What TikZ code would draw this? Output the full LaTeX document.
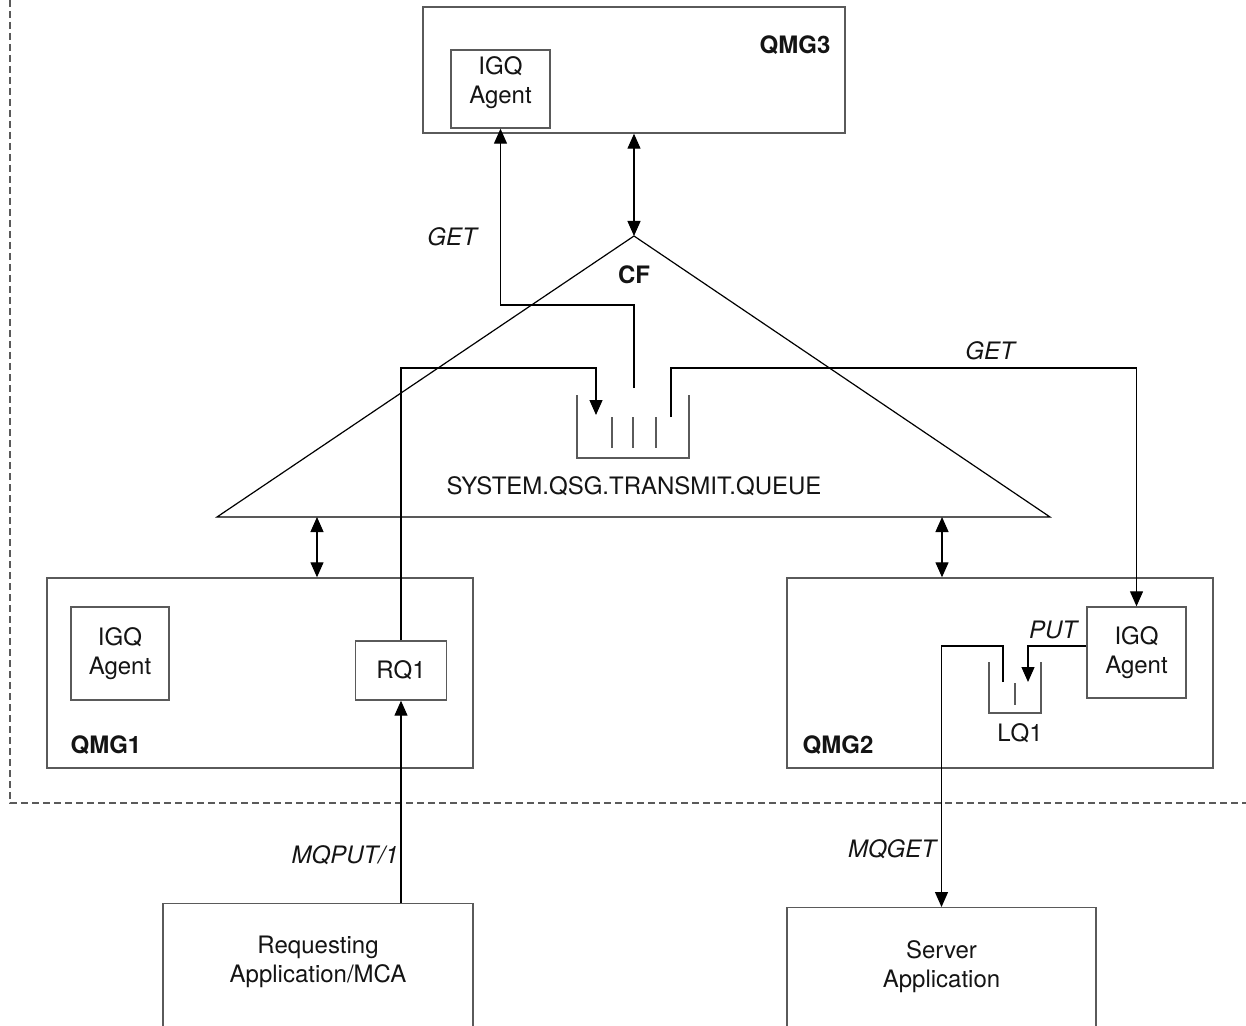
\documentclass[tikz,border=0pt]{standalone}
\usepackage{fontspec}
\setmainfont{TeX Gyre Heros}
\usetikzlibrary{arrows.meta,positioning,calc}
\definecolor{boxGray}{HTML}{5A5A5A}
\definecolor{textDark}{HTML}{141414}

\begin{document}
\begin{tikzpicture}[
        x=0.5pt, y=-0.5pt,
        font=\fontsize{12}{14.5}\selectfont,
        box/.style={draw=boxGray, line width=0.7pt, rectangle, align=center, inner sep=0pt, text=textDark}, % all boxes
        qlabel/.style={font=\fontsize{12}{14.5}\selectfont\bfseries, text=textDark},
        oplabel/.style={font=\fontsize{12}{14.5}\selectfont\itshape, text=textDark},
        queue/.style={draw=boxGray, line width=0.7pt},
        flow/.style={-{Triangle[length=7.5pt, width=6.5pt]}, black, line width=0.6pt},
        both/.style={{Triangle[length=7.5pt, width=6.5pt]}-{Triangle[length=7.5pt, width=6.5pt]}, black, line width=0.6pt}
    ]
    \clip (0,0) rectangle (1246,1026);

    % group boundary
    \draw[boxGray, line width=0.6pt, dash pattern=on 3.5pt off 2pt] (10,0) -- (10,803) -- (1246,803);

    % queue managers
    \node[box, minimum width=211pt, minimum height=63pt] (qmgC) at (634,70) {};
    \node[qlabel] at (795,45) {QMG3};
    \node[box, minimum width=49.5pt, minimum height=39pt] (agentC) at (500.5,89) {};
    \node[text=textDark, align=center] (agentCText) at (500.5,83) {IGQ\\Agent};

    \node[box, minimum width=213pt, minimum height=95pt] (qmgA) at (260,673) {};
    \node[qlabel] at (106,745) {QMG1};
    \node[box, minimum width=49pt, minimum height=46.5pt] (agentA) at (120,653.5) {IGQ\\Agent};
    \node[box, minimum width=45.5pt, minimum height=29.5pt] (rqA) at (401,670.5) {RQ1};

    \node[box, minimum width=213pt, minimum height=95pt] (qmgB) at (1000,673) {};
    \node[qlabel] at (838,745) {QMG2};
    \node[box, minimum width=49.5pt, minimum height=45.5pt] (agentB) at (1136.5,652.5) {IGQ\\Agent};

    % applications
    \node[box, minimum width=155pt, minimum height=70pt, anchor=north] (reqApp) at (318,903) {};
    \node[text=textDark, align=center] (reqText) at (318,962) {Requesting\\Application/MCA};
    \node[box, minimum width=154.5pt, minimum height=70pt, anchor=north] (srvApp) at (941.5,907) {};
    \node[text=textDark, align=center] (srvText) at (941.5,967) {Server\\Application};

    % coupling facility
    \coordinate (cfTop) at (634,236);
    \coordinate (cfL) at (317,517);
    \coordinate (cfR) at (942,517);
    \draw[black, line width=0.6pt] (cfTop) -- (217,517) -- (1050,517) -- cycle;
    \node[qlabel] at (634,275) {CF};

    % shared transmission queue
    \draw[queue] (577,395) -- (577,458) -- (689,458) -- (689,395);
    \foreach \qx in {612,633,656} \draw[queue] (\qx,417) -- (\qx,448);
    \coordinate (sqIn) at (596,415);
    \coordinate (sqMid) at (634,388);
    \coordinate (sqOut) at (671,417);
    \node[text=textDark] at (634,486) {SYSTEM.QSG.TRANSMIT.QUEUE};

    % local queue
    \draw[queue] (989,662) -- (989,713) -- (1041,713) -- (1041,662);
    \draw[queue] (1015,683) -- (1015,705);
    \coordinate (lqIn) at (1028,682);
    \coordinate (lqOut) at (1003,682);
    \node[text=textDark] at (1020,733) {LQ1};

    % connections to the CF
    \draw[both] (qmgC.south) -- (cfTop);
    \draw[both] (cfL) -- (cfL |- qmgA.north);
    \draw[both] (cfR) -- (cfR |- qmgB.north);

    % message flow
    \draw[flow] (rqA.south |- reqApp.north) -- (rqA.south);
    \node[oplabel] at (345,855) {MQPUT/1};
    \draw[flow] (rqA.north) -- (401,368) -| (sqIn);
    \draw[flow] (sqMid) -- (634,305) -| (agentC.south);
    \node[oplabel] at (452,237) {GET};
    \draw[flow] (sqOut) -- (671,368) -| (agentB.north);
    \node[oplabel] at (990,351) {GET};
    \draw[flow] ([yshift=3.25pt]agentB.west) -| (lqIn);
    \node[oplabel] at (1053,630) {PUT};
    \draw[flow] (lqOut) |- (941.5,646) -- (srvApp.north);
    \node[oplabel] at (892,849) {MQGET};
\end{tikzpicture}
\end{document}
